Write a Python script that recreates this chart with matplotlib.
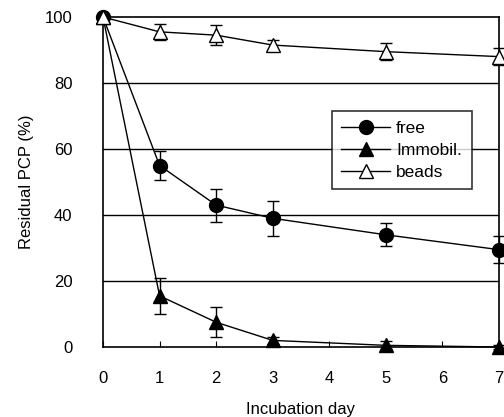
import matplotlib.pyplot as plt
from matplotlib.ticker import MultipleLocator
from matplotlib.lines import Line2D

# Datos
dias = [0, 1, 2, 3, 5, 7]
free = [100, 55, 43, 39, 34, 29.5]
free_err = [0, 4.5, 5, 5.3, 3.5, 4]
immobil = [100, 15.5, 7.5, 2, 0.5, 0]
immobil_err = [0, 5.5, 4.5, 1, 1.2, 0.5]
beads = [100, 95.5, 94.5, 91.5, 89.5, 88]
beads_err = [0, 2.5, 3, 1.5, 2.5, 2.5]

plt.rcParams['font.family'] = ['Liberation Sans', 'DejaVu Sans']

fig = plt.figure(figsize=(5.04, 4.17), dpi=100)
ax = fig.add_axes([103 / 504, 1 - 347 / 417, 396 / 504, 330 / 417])

# líneas de la cuadrícula horizontal
for y in [20, 40, 60, 80]:
    ax.axhline(y, color="black", linewidth=1.0, zorder=1)

estilo = dict(color="black", linewidth=1.0, markersize=10, capsize=4,
              elinewidth=1.0, capthick=1.0, clip_on=False, zorder=3)
ax.errorbar(dias, free, yerr=free_err, marker="o", markerfacecolor="black", **estilo)
ax.errorbar(dias, immobil, yerr=immobil_err, marker="^", markerfacecolor="black", **estilo)
ax.errorbar(dias, beads, yerr=beads_err, marker="^", markerfacecolor="white", **estilo)

ax.set_xlim(0, 7)
ax.set_ylim(0, 100)
ax.xaxis.set_major_locator(MultipleLocator(1))
ax.yaxis.set_major_locator(MultipleLocator(20))
ax.tick_params(axis="x", direction="in", length=4, pad=17, labelsize=12)
ax.tick_params(axis="y", direction="in", length=0, pad=22, labelsize=12)
for s in ax.spines.values():
    s.set_linewidth(1.2)

ax.set_xlabel("Incubation day", fontsize=12, labelpad=12)
ax.set_ylabel("Residual PCP (%)", fontsize=12, labelpad=8)

handles = [
    Line2D([0], [0], color="black", lw=1.0, marker="o", markersize=10,
           markerfacecolor="black", label="free"),
    Line2D([0], [0], color="black", lw=1.0, marker="^", markersize=10,
           markerfacecolor="black", label="Immobil."),
    Line2D([0], [0], color="black", lw=1.0, marker="^", markersize=10,
           markerfacecolor="white", label="beads"),
]
leg = ax.legend(handles=handles, loc="upper left", bbox_to_anchor=(0.578, 0.715),
                frameon=True, fancybox=False, edgecolor="black", fontsize=12.5,
                handlelength=2.8, borderpad=0.55, labelspacing=0.4,
                handletextpad=0.35, borderaxespad=0)
leg.get_frame().set_linewidth(1.2)
leg.set_zorder(5)

plt.savefig("out.png", dpi=100)
